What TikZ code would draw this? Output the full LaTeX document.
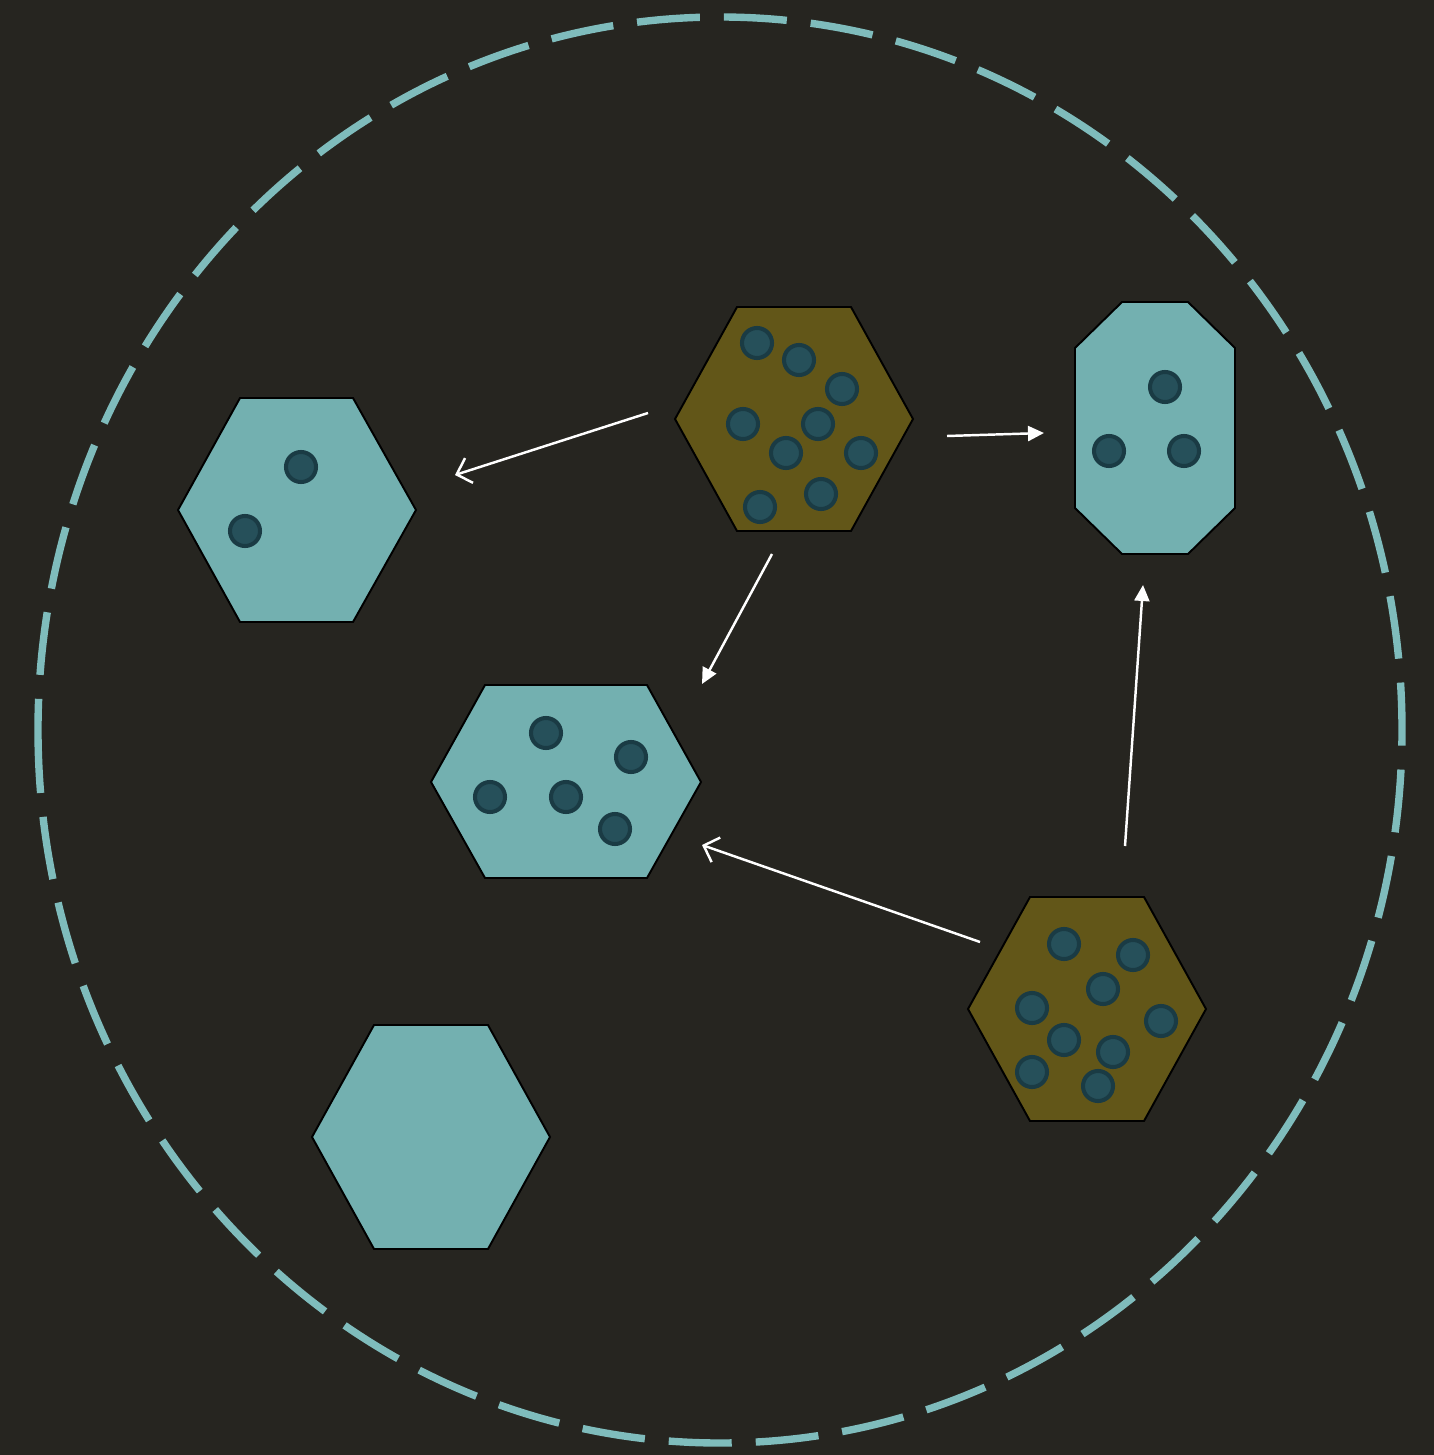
\documentclass[tikz,border=0pt]{standalone}
\usepackage{tikz}
\usetikzlibrary{arrows.meta}
\definecolor{bgdark}{HTML}{262520}
\definecolor{cellteal}{HTML}{73B0B0}
\definecolor{cellolive}{HTML}{625618}
\definecolor{molfill}{HTML}{26505A}
\definecolor{moledge}{HTML}{1A3B44}
\definecolor{ringteal}{HTML}{7FBCBC}
\tikzset{
  cellc/.style={draw=black,fill=cellteal,line width=.55pt,line join=miter},
  cello/.style={draw=black,fill=cellolive,line width=.55pt,line join=miter},
  mol/.style={circle,draw=moledge,fill=molfill,minimum size=3.0mm,inner sep=0pt,line width=1.15pt},
  ring/.style={draw=ringteal,line width=2.1pt,dash pattern=on 6.3mm off 2.4mm},
  flw/.style={-{Triangle[length=1.6mm,width=1.5mm]},draw=white,line width=.7pt},
  flwo/.style={-{Straight Barb[length=1.3mm,width=2.6mm]},draw=white,line width=.7pt},
}
\begin{document}
\begin{tikzpicture}[x=0.01cm,y=-0.01cm]
\fill[bgdark] (0,0) rectangle (1434,1455);
\useasboundingbox (0,0) rectangle (1434,1455);
% outer boundary, dashes start on the left
\coordinate (mid) at (720,730);
\draw[ring] (38,730) arc[start angle=180,end angle=-180,x radius=682,y radius=713];
% --- cell A, left
\draw[cellc] (178,510) -- (240,398) -- (353,398) -- (416,510) -- (353,622) -- (240,622) -- cycle;
\node[mol] (a1) at (301,467) {};
\node[mol] (a2) at (245,531) {};
% --- cell B, top, olive
\draw[cello] (675,419) -- (737,307) -- (851,307) -- (913,419) -- (851,531) -- (737,531) -- cycle;
\foreach \i/\p in {1/{757,343},2/{799,360},3/{842,389},4/{743,424},5/{818,424},
                   6/{786,453},7/{861,453},8/{760,507},9/{821,494}}
  \node[mol] (b\i) at (\p) {};
% --- cell C, octagon
\draw[cellc] (1122,302) -- (1188,302) -- (1235,348) -- (1235,508) -- (1188,554)
  -- (1122,554) -- (1075,508) -- (1075,348) -- cycle;
\node[mol] (c1) at (1165,387) {};
\node[mol] (c2) at (1109,451) {};
\node[mol] (c3) at (1184,451) {};
% --- cell D, middle
\draw[cellc] (431,782) -- (485,685) -- (647,685) -- (701,782) -- (647,878) -- (485,878) -- cycle;
\foreach \i/\p in {1/{546,733},2/{631,757},3/{490,797},4/{566,797},5/{615,829}}
  \node[mol] (d\i) at (\p) {};
% --- cell E, bottom right, olive
\draw[cello] (968,1009) -- (1030,897) -- (1144,897) -- (1206,1009) -- (1144,1121) -- (1030,1121) -- cycle;
\foreach \i/\p in {1/{1064,944},2/{1133,955},3/{1103,989},4/{1032,1008},5/{1161,1021},
                   6/{1064,1040},7/{1113,1052},8/{1032,1072},9/{1098,1086}}
  \node[mol] (e\i) at (\p) {};
% --- cell F, bottom left, empty
\draw[cellc] (312,1137) -- (374,1025) -- (488,1025) -- (550,1137) -- (488,1249) -- (374,1249) -- cycle;
% arrow ends
\coordinate (bA) at (648,413);  \coordinate (aIn) at (455,475);
\coordinate (bC) at (947,436);  \coordinate (cIn) at (1044,433);
\coordinate (bD) at (772,554);  \coordinate (dIn) at (702,684);
\coordinate (eD) at (980,942);  \coordinate (dIn2) at (702,845);
\coordinate (eC) at (1125,846); \coordinate (cIn2) at (1143,585);
\draw[flwo] (bA) -- (aIn);
\draw[flw] (bC) -- (cIn);
\draw[flw] (bD) -- (dIn);
\draw[flwo] (eD) -- (dIn2);
\draw[flw] (eC) -- (cIn2);
\end{tikzpicture}
\end{document}
